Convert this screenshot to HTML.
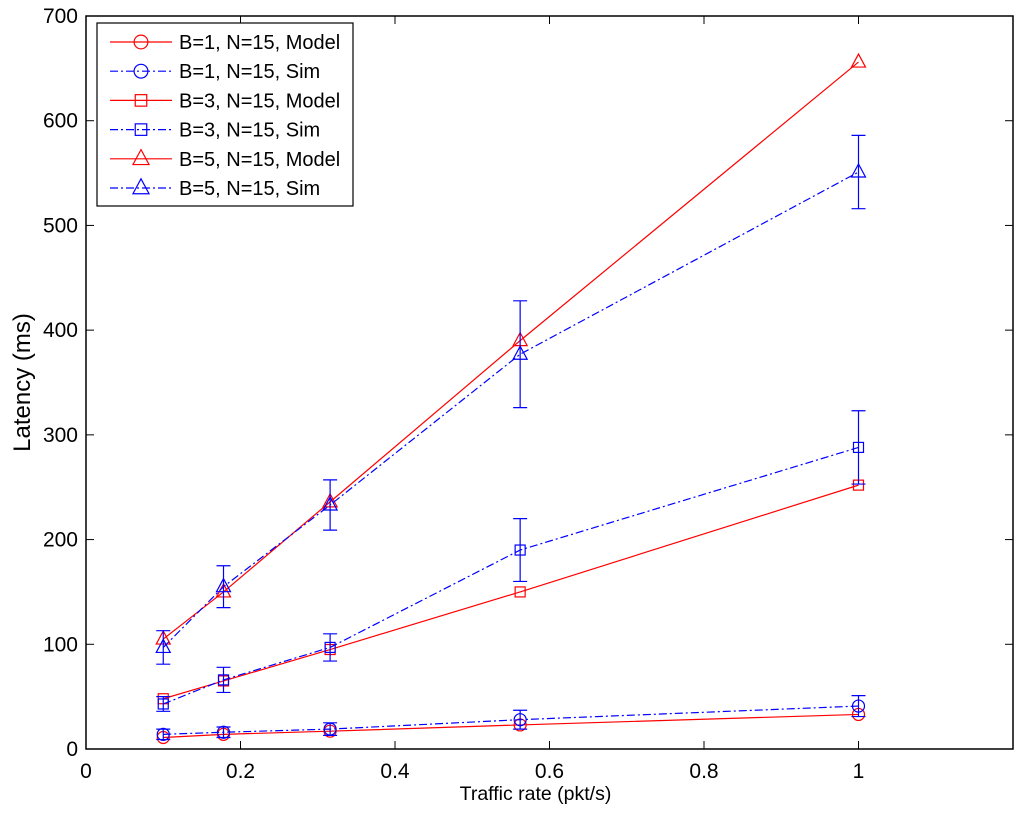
<!DOCTYPE html>
<html><head><meta charset="utf-8"><style>
body{margin:0;background:#fff}
svg text{font-family:"Liberation Sans",Arial,sans-serif;fill:#000}
</style></head><body>
<svg id="chart" width="1024" height="813" xmlns="http://www.w3.org/2000/svg">
<rect width="1024" height="813" fill="#fff"/>
<g id="plot"></g>
</svg>
<script>
const xValues=[0.1,0.178,0.316,0.562,1];
const b1Model=[11,14,17,23,33];
const b1Sim=[14,16,19,28,41];
const b1Err=[5,5,6,9,10];
const b3Model=[48,65,95,150,252];
const b3Sim=[43,66,97,190,288];
const b3Err=[7,12,13,30,35];
const b5Model=[105,150,236,390,656];
const b5Sim=[97,155,233,377,551];
const b5Err=[16,20,24,51,35];
const xTicks=[0,0.2,0.4,0.6,0.8,1];
const xTickLabels=["0","0.2","0.4","0.6","0.8","1"];
const yTicks=[0,100,200,300,400,500,600,700];

const L=86,R=1013,T=16,B=749;
const sx=v=>L+v/1.2*(R-L);
const sy=v=>B-v/700*(B-T);
const NS="http://www.w3.org/2000/svg";
const g=document.getElementById('plot');
function mk(tag,attrs,parent){const e=document.createElementNS(NS,tag);for(const k in attrs)e.setAttribute(k,attrs[k]);(parent||g).appendChild(e);return e;}

xTicks.forEach((t,i)=>{
  const tk=mk('line',{x1:sx(t),x2:sx(t),y1:B,y2:B-8,stroke:'#000'});
  
  
  mk('line',{x1:sx(t),x2:sx(t),y1:T,y2:T+8,stroke:'#000'});
  const tx=mk('text',{x:sx(t),y:B+29,'text-anchor':'middle','font-size':21});
  tx.textContent=xTickLabels[i];
  
  
});
yTicks.forEach(t=>{
  mk('line',{x1:L,x2:L+8,y1:sy(t),y2:sy(t),stroke:'#000'});
  mk('line',{x1:R,x2:R-8,y1:sy(t),y2:sy(t),stroke:'#000'});
  const tx=mk('text',{x:L-8,y:sy(t)+7,'text-anchor':'end','font-size':21});
  tx.textContent=String(t);
  
  
});
const frame=mk('rect',{x:L,y:T,width:R-L,height:B-T,fill:'none',stroke:'#000','stroke-width':1.5});



const xt=mk('text',{x:(L+R)/2-14,y:800,'text-anchor':'middle','font-size':19.5});
xt.textContent='Traffic rate (pkt/s)';


const yt=mk('text',{x:0,y:0,'text-anchor':'middle','font-size':24,transform:`translate(30,${(T+B)/2}) rotate(-90)`});
yt.textContent='Latency (ms)';



function marker(kind,x,y,color,parent,s){
  s=s||1;
  if(kind==='circle')return mk('circle',{cx:x,cy:y,r:6*s,fill:'none',stroke:color,'stroke-width':1.2},parent);
  if(kind==='square')return mk('rect',{x:x-5*s,y:y-5*s,width:10*s,height:10*s,fill:'none',stroke:color,'stroke-width':1.2},parent);
  return mk('polygon',{points:`${x},${y-8*s} ${x-7*s},${y+5*s} ${x+7*s},${y+5*s}`,fill:'none',stroke:color,'stroke-width':1.2},parent);
}
function series(vals,err,kind,color,dash,name){
  const sg=mk('g',{});
  
  
  mk('polyline',{points:xValues.map((x,i)=>sx(x)+','+sy(vals[i])).join(' '),fill:'none',stroke:color,'stroke-width':1.2,'stroke-dasharray':dash||''},sg);
  xValues.forEach((x,i)=>{
    if(err){
      const cx=sx(x),y1=sy(vals[i]-err[i]),y2=sy(vals[i]+err[i]);
      const eb=mk('path',{d:`M${cx},${y1}V${y2}M${cx-7},${y1}H${cx+7}M${cx-7},${y2}H${cx+7}`,stroke:color,'stroke-width':1.2,fill:'none'},sg);
      
      
    }
    const m=marker(kind,sx(x),sy(vals[i]),color,sg);
    
    
  });
}
const DD='8,3,2,3';
series(b1Model,null,'circle','#f00','', 'series-b1-model');
series(b1Sim,b1Err,'circle','#00f',DD,'series-b1-sim');
series(b3Model,null,'square','#f00','', 'series-b3-model');
series(b3Sim,b3Err,'square','#00f',DD,'series-b3-sim');
series(b5Model,null,'triangle','#f00','', 'series-b5-model');
series(b5Sim,b5Err,'triangle','#00f',DD,'series-b5-sim');

const lg=mk('g',{});


mk('rect',{x:97,y:23,width:256,height:183,fill:'#fff',stroke:'#000','stroke-width':1.2},lg);
const entries=[['B=1, N=15, Model','circle','#f00',''],['B=1, N=15, Sim','circle','#00f',DD],['B=3, N=15, Model','square','#f00',''],['B=3, N=15, Sim','square','#00f',DD],['B=5, N=15, Model','triangle','#f00',''],['B=5, N=15, Sim','triangle','#00f',DD]];
entries.forEach((e,i)=>{
  const y=42+i*29.2;
  const eg=mk('g',{},lg);
  
  
  mk('line',{x1:110,x2:172,y1:y,y2:y,stroke:e[2],'stroke-width':1.2,'stroke-dasharray':e[3]},eg);
  marker(e[1],141,y,e[2],eg,1.15);
  const t=mk('text',{x:179,y:y+7,'font-size':20},eg);
  t.textContent=e[0];
});
</script>
</body></html>
